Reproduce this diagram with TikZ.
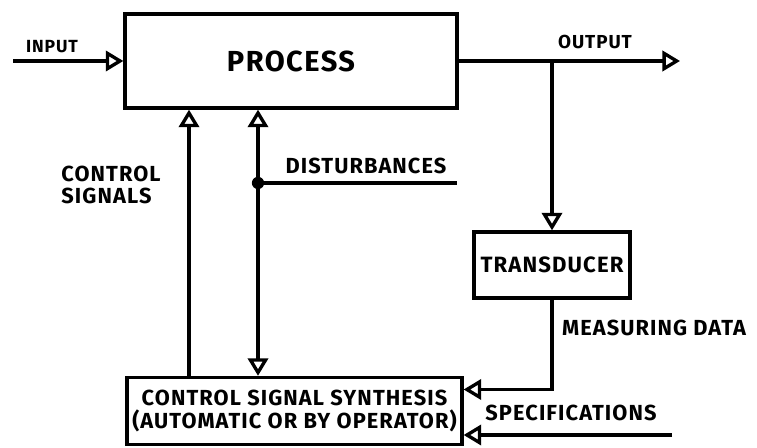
\documentclass[tikz,border=0pt]{standalone}
\usepackage{fontspec}
\setmainfont{Fira Sans}[LetterSpace=5]
\usetikzlibrary{arrows.meta,positioning}
\tikzset{
  >={Triangle[open,length=10pt,width=11.5pt]},
  flow/.style={line width=1.9pt,->},
  blockbox/.style={draw,line width=1.9pt,inner sep=0pt},
  lbl/.style={font=\bfseries\fontsize{12.4}{13}\selectfont},
}
\begin{document}
\begin{tikzpicture}[x=0.02cm,y=-0.02cm]
  \useasboundingbox (0,0) rectangle (757,448);
  \node[blockbox,minimum width=6.64cm,minimum height=1.88cm,font=\bfseries\fontsize{16.5}{20}\selectfont] (process) at (291,61) {PROCESS};
  \node[blockbox,minimum width=3.12cm,minimum height=1.32cm,font=\bfseries\fontsize{12.6}{16}\selectfont] (transducer) at (552,265) {TRANSDUCER};
  \node[blockbox,lbl,minimum width=6.7cm,minimum height=1.34cm,align=center] (synth) at (294.5,411) {CONTROL SIGNAL SYNTHESIS\\(AUTOMATIC OR BY OPERATOR)};
  \coordinate (in) at (13,61);
  \coordinate (out) at (680,61);
  \coordinate (cs) at (189,0);
  \coordinate (dot) at (258,183);
  \coordinate (dist) at (457,183);
  \coordinate (spec) at (672,435);
  \draw[flow] (in) -- (process.west);
  \draw[flow] (process.east) -- (out);
  \draw[flow] (process.east -| transducer.north) -- (transducer.north);
  \draw[flow] (synth.north -| cs) -- (process.south -| cs);
  \draw[flow,<->] (process.south -| dot) -- (synth.north -| dot);
  \fill (dot) circle (3.5pt);
  \draw[line width=1.9pt] (dot) -- (dist);
  \draw[flow] (transducer.south) |- ([yshift=0.43cm]synth.east);
  \draw[flow] (spec) -- (synth.east |- spec);
  \node[lbl,font=\bfseries\fontsize{10}{12}\selectfont] (inlbl) at (52,47) {INPUT};
  \node[lbl,font=\bfseries\fontsize{10.7}{12}\selectfont] (outlbl) at (595,42) {OUTPUT};
  \node[lbl,align=left] (cslbl) at (111,185) {CONTROL\\SIGNALS};
  \node[lbl] (distlbl) at (366,166) {DISTURBANCES};
  \node[lbl] (measlbl) at (654,328) {MEASURING DATA};
  \node[lbl] (speclbl) at (571,413) {SPECIFICATIONS};
\end{tikzpicture}
\end{document}
